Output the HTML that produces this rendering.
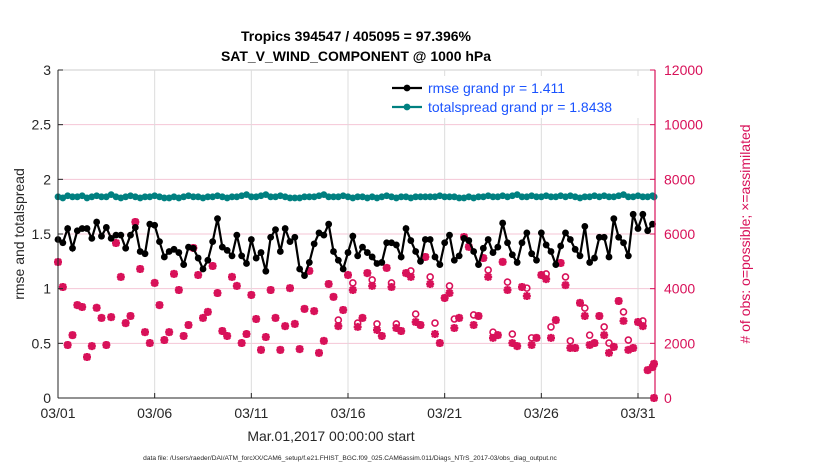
<!DOCTYPE html>
<html><head><meta charset="utf-8"><style>
body{margin:0;background:#fff;width:830px;height:470px;overflow:hidden;font-family:"Liberation Sans",sans-serif}
</style></head><body>
<svg id="chart" width="830" height="470" xmlns="http://www.w3.org/2000/svg" font-family="Liberation Sans, sans-serif"></svg>
<script>
const xTickLabels=["03/01","03/06","03/11","03/16","03/21","03/26","03/31"];
const xTickDays=[0,5,10,15,20,25,30];
const leftTicks=[0,0.5,1,1.5,2,2.5,3];
const rightTicks=[0,2000,4000,6000,8000,10000,12000];
const rmse=[1.45,1.42,1.55,1.37,1.53,1.55,1.55,1.46,1.61,1.48,1.56,1.46,1.49,1.49,1.37,1.49,1.56,1.34,1.32,1.59,1.58,1.43,1.29,1.34,1.36,1.33,1.22,1.38,1.37,1.28,1.18,1.26,1.43,1.64,1.38,1.35,1.30,1.49,1.30,1.23,1.45,
1.28,1.33,1.16,1.47,1.54,1.34,1.55,1.43,1.47,1.18,1.12,1.24,1.41,1.51,1.49,1.59,1.34,1.26,1.18,1.33,1.48,1.30,1.38,1.33,1.29,1.23,1.24,1.42,1.42,1.40,1.29,1.55,1.44,1.34,1.25,1.45,1.45,1.29,1.22,1.42,1.49,
1.26,1.30,1.46,1.44,1.34,1.22,1.37,1.45,1.33,1.38,1.60,1.42,1.31,1.24,1.42,1.51,1.32,1.26,1.51,1.40,1.34,1.22,1.39,1.51,1.45,1.36,1.30,1.57,1.24,1.28,1.47,1.47,1.29,1.64,1.47,1.42,1.30,1.68,1.55,1.68,1.53,1.59];
const spread=[1.84,1.83,1.85,1.84,1.84,1.85,1.83,1.84,1.85,1.84,1.84,1.86,1.84,1.83,1.84,1.85,1.84,1.83,1.84,1.84,1.85,1.84,1.83,1.83,1.84,1.83,1.84,1.85,1.84,1.84,1.83,1.84,1.84,1.85,1.84,1.83,1.84,1.84,1.85,1.86,1.84,
1.84,1.85,1.86,1.84,1.84,1.85,1.84,1.83,1.83,1.83,1.84,1.84,1.84,1.85,1.86,1.84,1.84,1.84,1.85,1.84,1.83,1.84,1.84,1.83,1.84,1.83,1.84,1.85,1.84,1.83,1.84,1.84,1.83,1.84,1.84,1.84,1.84,1.84,1.85,1.84,1.84,
1.84,1.83,1.83,1.84,1.83,1.84,1.84,1.85,1.84,1.84,1.85,1.84,1.85,1.86,1.84,1.84,1.85,1.84,1.84,1.85,1.84,1.84,1.85,1.84,1.85,1.84,1.83,1.84,1.84,1.85,1.84,1.85,1.84,1.84,1.85,1.86,1.84,1.84,1.85,1.84,1.84,1.85,1.84,1.84];
const nAssim=[4976,4060,1940,2300,3400,3330,1500,1900,3300,2930,1940,2960,5670,4430,2740,3000,6440,4720,2410,2010,4210,3400,2120,2410,4540,3950,2270,2670,5490,4500,2930,3150,4830,3840,2450,2270,4430,4100,2010,2340,3770,
2890,1760,2230,3950,2930,1760,2630,4020,2710,1790,3260,4650,3180,1650,2090,4170,3700,2630,3220,4500,3950,2600,2930,4570,4100,2490,2270,4760,4060,2560,2450,4570,4430,2780,2670,5160,4170,2340,2010,3660,3840,
2560,2930,5890,5530,2670,3000,5120,4430,2200,2300,4980,3950,2010,1900,4060,3730,1940,2200,4500,4350,2200,2850,4940,4130,1830,1830,3480,3000,1940,2010,3000,2300,1650,1870,3550,2820,1760,1830,2780,2630,1020,1130,1250,0];
const nPoss=[4976,4060,1940,2300,3400,3330,1500,1900,3300,2930,1940,2960,5670,4430,2740,3000,6440,4720,2410,2010,4210,3400,2120,2410,4540,3950,2270,2670,5490,4500,2930,3150,4830,3840,2450,2270,4430,4100,2010,2340,3770,
2890,1760,2230,3950,2930,1760,2630,4020,2710,1790,3260,4650,3180,1650,2090,4170,3700,2850,3220,4500,4210,2740,2930,4570,4320,2710,2270,4760,4210,2710,2450,4570,4650,3070,2670,5160,4430,2740,2010,3660,4100,
2890,2930,5890,5530,3040,3000,5120,4680,2410,2300,4980,4240,2340,1900,4060,4020,2200,2200,4500,4540,2600,2850,4940,4430,2090,1830,3480,3290,2300,2010,3000,2600,2010,1870,3550,3150,2120,1830,2780,2820,1020,1130,1250,0];

const NS='http://www.w3.org/2000/svg';
const svg=document.getElementById('chart');
const X0=58,X1=655,Y0=398,Y1=70,DAYPX=(638-58)/30;
const xs=i=>Math.min(X0+i*DAYPX/4,X1-1);
const xd=d=>X0+d*DAYPX;
const yl=v=>Y0-(v/3)*(Y0-Y1);
const yr=v=>Y0-(v/12000)*(Y0-Y1);
const MAG='#d81159',TEAL='#008080';
function el(t,a,p){const e=document.createElementNS(NS,t);for(const k in a)e.setAttribute(k,a[k]);(p||svg).appendChild(e);return e;}

const bg=el('rect',{x:X0,y:Y1,width:X1-X0,height:Y0-Y1,fill:'#fff',stroke:'#ccc'});


rightTicks.forEach(t=>{if(t>0&&t<12000){const g=el('line',{x1:X0,x2:X1,y1:yr(t),y2:yr(t),stroke:'#f4c6d6','stroke-width':1});

}});
xTickDays.forEach(d=>{if(d>0){const g=el('line',{x1:xd(d),x2:xd(d),y1:Y1,y2:Y0,stroke:'#dcdcdc','stroke-width':1});

}});

const gObs=el('g',{});


nPoss.forEach((v,i)=>{const c=el('circle',{cx:xs(i),cy:yr(v),r:3,fill:'none',stroke:MAG,'stroke-width':1.6},gObs);

});
nAssim.forEach((v,i)=>{const x=xs(i),y=yr(v),r=4;
const p=el('path',{d:`M${x-r} ${y}H${x+r}M${x} ${y-r}V${y+r}M${x-3} ${y-3}L${x+3} ${y+3}M${x-3} ${y+3}L${x+3} ${y-3}`,stroke:MAG,'stroke-width':2.4},gObs);

});

function series(arr,color,name){
const g=el('g',{});


el('polyline',{points:arr.map((v,i)=>xs(i)+','+yl(v)).join(' '),fill:'none',stroke:color,'stroke-width':2.2},g);
arr.forEach((v,i)=>{const c=el('circle',{cx:xs(i),cy:yl(v),r:3.4,fill:color},g);

});}
series(spread,TEAL,'totalspread-series');
series(rmse,'#000','rmse-series');

const ax=el('g',{});


el('line',{x1:X0,x2:X0,y1:Y1,y2:Y0,stroke:'#262626'},ax);
el('line',{x1:X0,x2:X1,y1:Y0,y2:Y0,stroke:'#262626'},ax);
el('line',{x1:X1,x2:X1,y1:Y1,y2:Y0,stroke:MAG,'stroke-width':1.2},ax);
leftTicks.forEach(t=>{const y=yl(t);el('line',{x1:X0,x2:X0+5,y1:y,y2:y,stroke:'#262626'},ax);
const tx=el('text',{x:X0-7,y:y+5,'text-anchor':'end','font-size':14,fill:'#262626'},ax);tx.textContent=String(t);

});
rightTicks.forEach(t=>{const y=yr(t);el('line',{x1:X1-5,x2:X1,y1:y,y2:y,stroke:MAG},ax);
const tx=el('text',{x:X1+9,y:y+5,'font-size':14,fill:MAG},ax);tx.textContent=String(t);

});
xTickDays.forEach((d,i)=>{const x=xd(d);el('line',{x1:x,x2:x,y1:Y0-5,y2:Y0,stroke:'#262626'},ax);
const tx=el('text',{x:x,y:Y0+20,'text-anchor':'middle','font-size':14,fill:'#262626'},ax);tx.textContent=xTickLabels[i];

});
</script>
<svg width="830" height="470" style="position:absolute;left:0;top:0" font-family="Liberation Sans, sans-serif">
<text x="356" y="41" text-anchor="middle" font-size="14" font-weight="bold">Tropics 394547 / 405095 = 97.396%</text>
<text x="356" y="61" text-anchor="middle" font-size="14" font-weight="bold">SAT_V_WIND_COMPONENT @ 1000 hPa</text>
<text transform="translate(24,234) rotate(-90)" text-anchor="middle" font-size="14" fill="#262626">rmse and totalspread</text>
<text transform="translate(750,234) rotate(-90)" text-anchor="middle" font-size="14" fill="#d81159"># of obs: o=possible; ×=assimilated</text>
<text x="331" y="441" text-anchor="middle" font-size="14" fill="#262626">Mar.01,2017 00:00:00 start</text>
<text x="350" y="460" text-anchor="middle" font-size="6.6" fill="#262626">data file: /Users/raeder/DAI/ATM_forcXX/CAM6_setup/f.e21.FHIST_BGC.f09_025.CAM6assim.011/Diags_NTrS_2017-03/obs_diag_output.nc</text>
<g>
<rect x="386" y="76" width="266" height="42" fill="#fff"/>
<g>
<line x1="392" x2="422" y1="88" y2="88" stroke="#000" stroke-width="2.2"/><circle cx="407" cy="88" r="3.4" fill="#000"/>
<text x="428" y="93" font-size="14" fill="#1a53ff">rmse grand pr = 1.411</text></g>
<g>
<line x1="392" x2="422" y1="107" y2="107" stroke="#008080" stroke-width="2.2"/><circle cx="407" cy="107" r="3.4" fill="#008080"/>
<text x="428" y="112" font-size="14" fill="#1a53ff">totalspread grand pr = 1.8438</text></g>
</g>
</svg>
</body></html>
